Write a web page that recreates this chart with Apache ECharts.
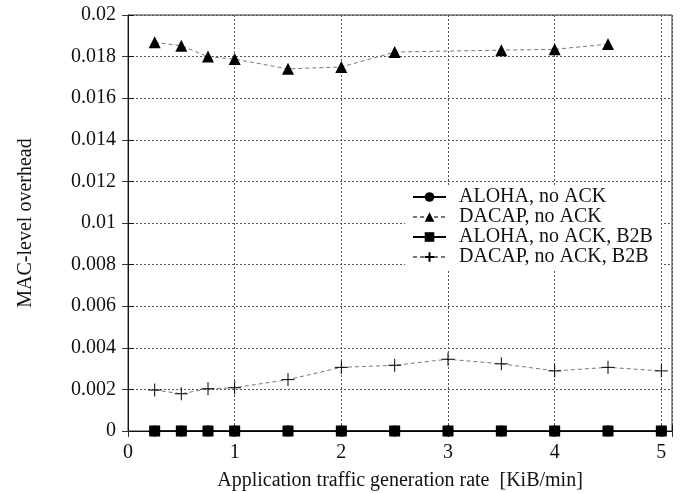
<!DOCTYPE html>
<html>
<head>
<meta charset="utf-8">
<script src="https://cdn.jsdelivr.net/npm/echarts@6/dist/echarts.min.js"></script>
<style>
  html, body { margin: 0; padding: 0; background: #fff; }
  #chart { width: 689px; height: 493px; }
</style>
</head>
<body>
<div id="chart"></div>
<script>
  // x positions (KiB/min)
  var rates = [0.25, 0.5, 0.75, 1, 1.5, 2, 2.5, 3, 3.5, 4, 4.5, 5];
  var ratesDacap = [0.25, 0.5, 0.75, 1, 1.5, 2, 2.5, 3.5, 4, 4.5];

  var alohaNoAck = [0, 0, 0, 0, 0, 0, 0, 0, 0, 0, 0, 0];
  var dacapNoAck = [0.01869, 0.01852, 0.0180, 0.01788, 0.01741, 0.0175, 0.01822, 0.01831, 0.01835, 0.0186];
  var alohaB2B = [0, 0, 0, 0, 0, 0, 0, 0, 0, 0, 0, 0];
  var dacapB2B = [0.00197, 0.00179, 0.00203, 0.00208, 0.00247, 0.00306, 0.00316, 0.00345, 0.00323, 0.00289, 0.00306, 0.00289];

  var xTicks = [0, 1, 2, 3, 4, 5];

  function pairs(xs, ys) {
    return xs.map(function (x, i) { return [x, ys[i]] })
  }

  var font = 'Liberation Serif';
  var plusPath = 'path://M5,0 L5,10 M0,5 L10,5';

  var myChart = echarts.init(document.getElementById('chart'));
  var option = {
    animation: false,
    textStyle: { fontFamily: font, color: '#111' },
    grid: {
      left: 128, right: 17, top: 15, bottom: 62,
      outerBoundsMode: 'none',
      containLabel: false,
      show: true,
      borderColor: '#333',
      borderWidth: 1
    },
    legend: {
      orient: 'vertical',
      left: 405,
      top: 185,
      backgroundColor: '#fff',
      padding: [2, 8, 2, 7],
      itemWidth: 33,
      itemHeight: 12,
      itemGap: 0,
      textStyle: { fontFamily: font, fontSize: 20, lineHeight: 19, color: '#111', padding: [0, 0, 0, 8] },
      data: ['ALOHA, no ACK', 'DACAP, no ACK', 'ALOHA, no ACK, B2B', 'DACAP, no ACK, B2B']
    },
    xAxis: [{
      type: 'value',
      min: 0,
      max: 5.1,
      interval: 1,
      name: 'Application traffic generation rate  [KiB/min]',
      nameLocation: 'middle',
      nameGap: 40,
      nameTextStyle: { fontFamily: font, fontSize: 20, color: '#111' },
      axisLine: { show: true, onZero: false, lineStyle: { color: '#111' } },
      axisTick: { show: true, inside: true, length: 6, lineStyle: { color: '#111' } },
      axisLabel: {
        fontFamily: font, fontSize: 20, color: '#111', margin: 12,
        formatter: function (v) { return xTicks.indexOf(v) >= 0 ? String(v) : '' }
      },
      splitLine: { show: true, lineStyle: { color: '#555', type: [2, 2], width: 1 } }
    }, {
      type: 'value',
      position: 'top',
      min: 0,
      max: 5.1,
      interval: 1,
      axisLine: { show: false },
      axisTick: { show: true, inside: true, length: 6, lineStyle: { color: '#333' } },
      axisLabel: { show: false },
      splitLine: { show: false }
    }],
    yAxis: [{
      type: 'value',
      min: 0,
      max: 0.02,
      interval: 0.002,
      name: 'MAC-level overhead',
      nameLocation: 'middle',
      nameGap: 92,
      nameTextStyle: { fontFamily: font, fontSize: 20, color: '#111' },
      axisLine: { show: true, onZero: false, lineStyle: { color: '#111' } },
      axisTick: { show: true, inside: true, length: 6, lineStyle: { color: '#111' } },
      axisLabel: { fontFamily: font, fontSize: 20, color: '#111', margin: 12 },
      splitLine: { show: true, lineStyle: { color: '#555', type: [2, 2], width: 1 } }
    }, {
      type: 'value',
      position: 'right',
      min: 0,
      max: 0.02,
      interval: 0.002,
      axisLine: { show: false },
      axisTick: { show: true, inside: true, length: 6, lineStyle: { color: '#333' } },
      axisLabel: { show: false },
      splitLine: { show: false }
    }],
    series: [{
      name: 'ALOHA, no ACK',
      type: 'line',
      clip: false,
      data: pairs(rates, alohaNoAck),
      symbol: 'circle',
      symbolSize: 11,
      itemStyle: { color: '#000' },
      lineStyle: { color: '#000', width: 1 }
    }, {
      name: 'DACAP, no ACK',
      type: 'line',
      clip: false,
      data: pairs(ratesDacap, dacapNoAck),
      symbol: 'triangle',
      symbolSize: 12,
      itemStyle: { color: '#000' },
      lineStyle: { color: '#777', width: 1, type: [4, 3] }
    }, {
      name: 'ALOHA, no ACK, B2B',
      type: 'line',
      clip: false,
      data: pairs(rates, alohaB2B),
      symbol: 'rect',
      symbolSize: 11,
      itemStyle: { color: '#000' },
      lineStyle: { color: '#000', width: 1 }
    }, {
      name: 'DACAP, no ACK, B2B',
      type: 'line',
      clip: false,
      data: pairs(rates, dacapB2B),
      symbol: plusPath,
      symbolSize: 13,
      itemStyle: { color: 'none', borderColor: '#000', borderWidth: 1 },
      lineStyle: { color: '#777', width: 1, type: [4, 3] }
    }]
  };
  option && myChart.setOption(option);
  window.addEventListener('resize', myChart.resize);
</script>
</body>
</html>
